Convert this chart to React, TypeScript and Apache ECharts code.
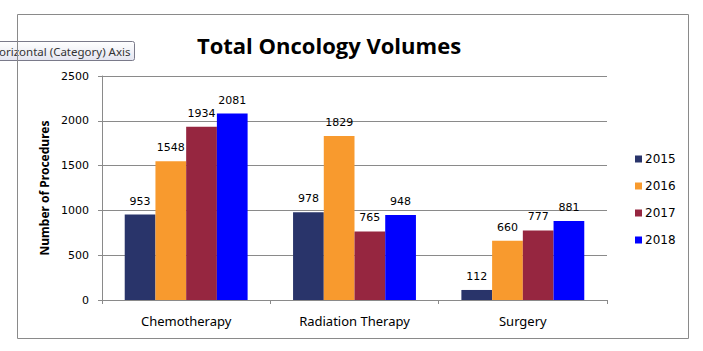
import React, { useEffect, useRef } from "react";
import * as echarts from "echarts";

const categories = ["Chemotherapy", "Radiation Therapy", "Surgery"];
const years = ["2015", "2016", "2017", "2018"];
const values2015 = [953, 978, 112];
const values2016 = [1548, 1829, 660];
const values2017 = [1934, 765, 777];
const values2018 = [2081, 948, 881];
const colors = ["#29346A", "#F89A2E", "#962640", "#0000FF"];

export default function App() {
  const ref = useRef<HTMLDivElement>(null);
  useEffect(() => {
    if (!ref.current) return;
    const chart = echarts.init(ref.current, null, { renderer: "svg" });
    const seriesData = [values2015, values2016, values2017, values2018];
    chart.setOption({
      animation: false,
      backgroundColor: "#ffffff",
      title: {
        text: "Total Oncology Volumes",
        left: 324,
        textAlign: "center",
        top: 29,
        textStyle: { fontFamily: "Open Sans", fontWeight: "bold", fontSize: 22, color: "#000" },
      },
      legend: {
        orient: "vertical",
        left: 630,
        top: 148,
        itemWidth: 7,
        itemHeight: 7,
        itemGap: 15,
        icon: "rect",
        data: years,
        textStyle: { fontFamily: "DejaVu Sans", fontSize: 12, color: "#000", padding: [0, 0, 0, -2] },
      },
      grid: { left: 102, right: 96, top: 76, bottom: 51 },
      xAxis: {
        type: "category",
        data: categories,
        axisLine: { lineStyle: { color: "#8a8a8a" } },
        axisTick: { show: true, length: 4, lineStyle: { color: "#8a8a8a" } },
        axisLabel: { margin: 14, fontFamily: "Noto Sans", fontSize: 13, color: "#000" },
      },
      yAxis: {
        type: "value",
        min: 0,
        max: 2500,
        interval: 500,
        name: "Number of Procedures",
        nameLocation: "middle",
        nameGap: 52,
        nameTextStyle: { fontFamily: "Noto Sans", fontWeight: "bold", fontSize: 12, color: "#000" },
        axisLine: { show: true, lineStyle: { color: "#8a8a8a" } },
        axisTick: { show: true, length: 4, lineStyle: { color: "#8a8a8a" } },
        axisLabel: {
          margin: 13,
          fontFamily: "DejaVu Sans",
          fontSize: 11,
          color: "#000",
          formatter: (v: number) => String(v),
        },
        splitLine: { lineStyle: { color: "#8a8a8a" } },
      },
      series: years.map((y, i) => ({
        name: y,
        type: "bar",
        data: seriesData[i],
        itemStyle: { color: colors[i] },
        barGap: "0%",
        barCategoryGap: "27%",
        label: {
          show: true,
          position: "top",
          distance: 8,
          fontFamily: "DejaVu Sans",
          fontSize: 11,
          color: "#000",
        },
      })),
      graphic: [
        {
          type: "rect",
          shape: { x: 17.5, y: 14.5, width: 671, height: 324 },
          style: { fill: "none", stroke: "#8a8a8a", lineWidth: 1 },
          z: 100,
        },
        {
          type: "group",
          z: 200,
          children: [
            {
              type: "rect",
              shape: { x: -3.5, y: 41.5, width: 138, height: 19, r: 2 },
              style: {
                fill: new echarts.graphic.LinearGradient(0, 0, 0, 1, [
                  { offset: 0, color: "#ffffff" },
                  { offset: 1, color: "#e4e5f0" },
                ]),
                stroke: "#7a7a8a",
                lineWidth: 1,
              },
            },
            {
              type: "text",
              x: -1,
              y: 51,
              style: {
                text: "orizontal (Category) Axis",
                fontFamily: "Noto Sans",
                fontSize: 11.5,
                fill: "#333",
                verticalAlign: "middle",
              },
            },
          ],
        },
      ],
    });
    return () => chart.dispose();
  }, []);
  return (
    <div
      ref={ref}
      style={{ position: "fixed", left: 0, top: 0, width: 703, height: 351 }}
    />
  );
}
